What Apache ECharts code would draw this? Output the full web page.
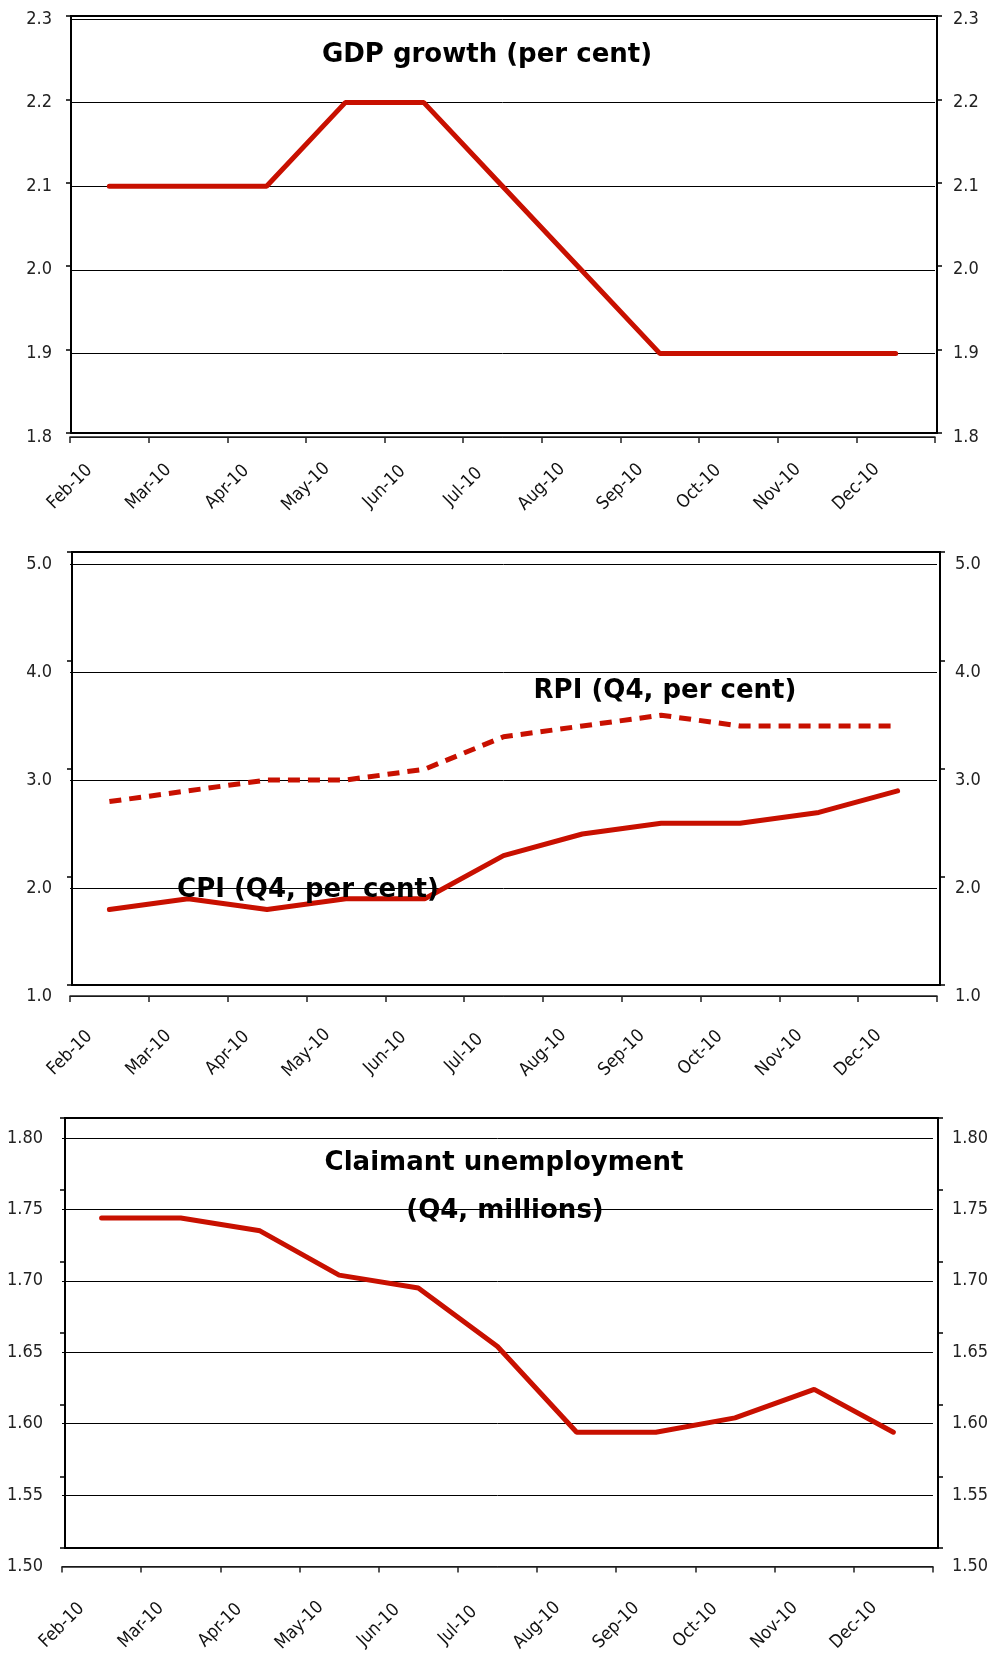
<!DOCTYPE html>
<html><head><meta charset="utf-8">
<script src="https://cdn.jsdelivr.net/npm/echarts@6/dist/echarts.min.js"></script>
<style>html,body{margin:0;padding:0;background:#fff}#c{width:991px;height:1655px}</style>
</head><body><div id="c"></div>
<script>
// ---- data ----
const months = ['Feb-10','Mar-10','Apr-10','May-10','Jun-10','Jul-10','Aug-10','Sep-10','Oct-10','Nov-10','Dec-10'];
const tickLabels = ['Feb-10','Mar-10','Apr-10','May-10','Jun-10','Jul-10','Aug-10','Sep-10','Oct-10','Nov-10','Dec-10',''];
const gdpGrowth = [2.1,2.1,2.1,2.2,2.2,2.1,2.0,1.9,1.9,1.9,1.9];
const cpiInflation = [1.8,1.9,1.8,1.9,1.9,2.3,2.5,2.6,2.6,2.7,2.9];
const rpiInflation = [2.8,2.9,3.0,3.0,3.1,3.4,3.5,3.6,3.5,3.5,3.5];
const claimantUnemployment = [1.744,1.744,1.735,1.704,1.695,1.654,1.594,1.594,1.604,1.624,1.594];
const gdpAxis = {min:1.8, max:2.3, interval:0.1, decimals:1};
const inflationAxis = {min:1.0, max:5.0, interval:1.0, decimals:1};
const claimantAxis = {min:1.5, max:1.8, interval:0.05, decimals:2};
const titles = ['GDP growth (per cent)','RPI (Q4, per cent)','CPI (Q4, per cent)','Claimant unemployment','(Q4, millions)'];

// ---- styling / layout ----
const RED = '#c81000';
const FONT = '"DejaVu Sans", Verdana, sans-serif';
const LABEL_FONT = '"DejaVu Sans Condensed", "DejaVu Sans", sans-serif';
const panels = [
  {dataGrid:{left:70, top:19, width:865, height:418}, frameGrid:{left:71, top:16, width:866, height:417},
   axis:gdpAxis, labelMargin:50, yMargin:18,
   series:[{data:gdpGrowth, dash:'solid'}]},
  {dataGrid:{left:70, top:564, width:867, height:432}, frameGrid:{left:72, top:552, width:868, height:433},
   axis:inflationAxis, labelMargin:57, yMargin:18,
   series:[{data:rpiInflation, dash:[12,8]}, {data:cpiInflation, dash:'solid'}]},
  {dataGrid:{left:62, top:1138, width:873, height:432}, frameGrid:{left:65, top:1118, width:873, height:430},
   axis:claimantAxis, labelMargin:59, yMargin:19,
   series:[{data:claimantUnemployment, dash:'solid'}]}
];

const grid = [], xAxis = [], yAxis = [], series = [];
panels.forEach((p) => {
  const gData = grid.length;
  grid.push(Object.assign({containLabel:false, show:false}, p.dataGrid));
  const gFrame = grid.length;
  grid.push(Object.assign({containLabel:false, show:true, borderColor:'#000', borderWidth:2, backgroundColor:'transparent'}, p.frameGrid));

  const xData = xAxis.length;
  xAxis.push({type:'category', gridIndex:gData, data:months, boundaryGap:true, show:false});
  xAxis.push({type:'category', gridIndex:gData, data:tickLabels, boundaryGap:false, position:'bottom',
    axisLine:{show:true, lineStyle:{color:'#222', width:1.5}},
    axisTick:{show:true, length:6, inside:false, lineStyle:{color:'#222', width:1.5}},
    axisLabel:{show:true, interval:0, rotate:45, align:'center', verticalAlign:'middle', margin:p.labelMargin,
      fontFamily:LABEL_FONT, fontSize:18, color:'#111'},
    splitLine:{show:false}});
  xAxis.push({type:'category', gridIndex:gFrame, data:months, show:false});

  const dec = p.axis.decimals;
  const yCommon = {type:'value', min:p.axis.min, max:p.axis.max, interval:p.axis.interval};
  const yLeft = yAxis.length;
  yAxis.push(Object.assign({}, yCommon, {gridIndex:gData, position:'left',
    axisLine:{show:false}, axisTick:{show:false},
    axisLabel:{margin:p.yMargin, fontFamily:LABEL_FONT, fontSize:18, color:'#222', formatter:(v)=>v.toFixed(dec)},
    splitLine:{show:true, lineStyle:{color:'#000', width:1}}}));
  yAxis.push(Object.assign({}, yCommon, {gridIndex:gData, position:'right',
    axisLine:{show:false}, axisTick:{show:false},
    axisLabel:{margin:p.yMargin, fontFamily:LABEL_FONT, fontSize:18, color:'#222', formatter:(v)=>v.toFixed(dec)},
    splitLine:{show:false}}));
  ['left','right'].forEach(pos => {
    yAxis.push(Object.assign({}, yCommon, {gridIndex:gFrame, position:pos,
      axisLine:{show:true, lineStyle:{color:'#000', width:2}},
      axisTick:{show:true, inside:false, length:5, lineStyle:{color:'#000', width:1.5}},
      axisLabel:{show:false}, splitLine:{show:false}}));
  });

  p.series.forEach(s => {
    series.push({type:'line', xAxisIndex:xData, yAxisIndex:yLeft, data:s.data, symbol:'none', z:5,
      lineStyle:{color:RED, width:5, type:s.dash, cap: s.dash === 'solid' ? 'round' : 'butt'}});
  });
});

const titleFont = 'bold 26px ' + FONT;
const graphic = [
  {type:'text', x:487, y:55, z:100, style:{text:titles[0], font:titleFont, fill:'#000', align:'center', verticalAlign:'middle'}},
  {type:'text', x:665, y:691, z:100, style:{text:titles[1], font:titleFont, fill:'#000', align:'center', verticalAlign:'middle'}},
  {type:'text', x:308, y:890, z:100, style:{text:titles[2], font:titleFont, fill:'#000', align:'center', verticalAlign:'middle'}},
  {type:'text', x:504, y:1163, z:100, style:{text:titles[3], font:titleFont, fill:'#000', align:'center', verticalAlign:'middle'}},
  {type:'text', x:505, y:1211, z:0, style:{text:titles[4], font:titleFont, fill:'#000', align:'center', verticalAlign:'middle'}}
];

const chart = echarts.init(document.getElementById('c'), null, {renderer:'canvas'});
chart.setOption({animation:false, backgroundColor:'#fff', grid, xAxis, yAxis, series, graphic});
</script></body></html>
